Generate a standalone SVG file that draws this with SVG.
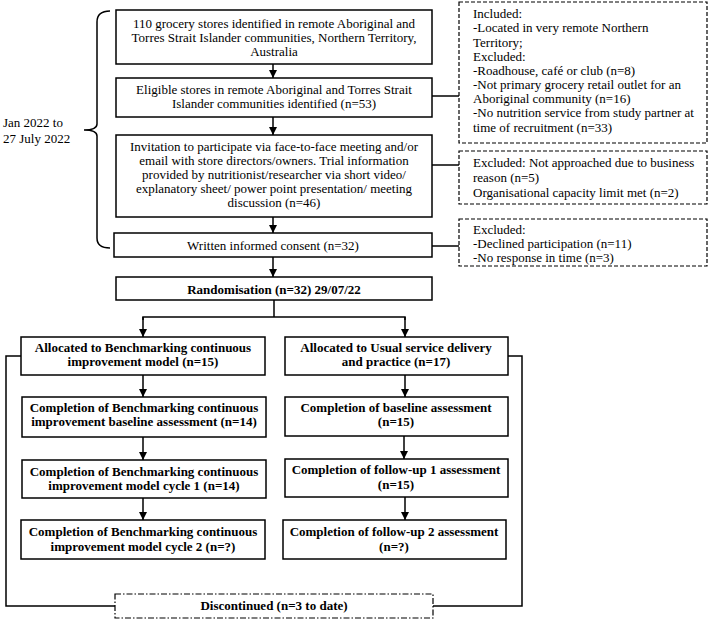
<svg xmlns="http://www.w3.org/2000/svg" width="708" height="621" viewBox="0 0 708 621" font-family="Liberation Serif, Times New Roman, DejaVu Serif, serif">
<defs>
<marker id="ah" viewBox="0 0 8 8" refX="8" refY="4" markerWidth="8" markerHeight="8" markerUnits="userSpaceOnUse" orient="auto">
<path d="M0,0 L8,4 L0,8 z" fill="#000"/>
</marker>
<style>
text{font-family:'Liberation Serif','Times New Roman','DejaVu Serif',serif;font-size:13px;fill:#000}
.c{text-anchor:middle}
.b{font-weight:bold}
.box{fill:#fff;stroke:#000;stroke-width:1.5}
.dash{fill:#fff;stroke:#000;stroke-width:1.2;stroke-dasharray:4,2}
.dd{fill:#fff;stroke:#000;stroke-width:1.2;stroke-dasharray:6,2,1.5,2}
.ln{fill:none;stroke:#000;stroke-width:1.5}
.ar{fill:none;stroke:#000;stroke-width:1.5;marker-end:url(#ah)}
</style>
</defs>
<rect width="708" height="621" fill="#fff"/>

<g id="connectors">
<line class="ar" x1="273" y1="64" x2="273" y2="78"/>
<line class="ar" x1="273" y1="117" x2="273" y2="135"/>
<line class="ar" x1="273" y1="217" x2="273" y2="233"/>
<line class="ar" x1="273" y1="257" x2="273" y2="277"/>
<line class="ln" x1="432" y1="96" x2="459" y2="96"/>
<line class="ln" x1="432" y1="165" x2="459" y2="165"/>
<line class="ln" x1="432" y1="246" x2="459" y2="246"/>
<line class="ln" x1="274" y1="300" x2="274" y2="317"/>
<polyline class="ln" points="143,320 143,317 405,317 405,320"/>
<line class="ar" x1="143" y1="317" x2="143" y2="337"/>
<line class="ar" x1="405" y1="317" x2="405" y2="337"/>
<line class="ar" x1="143" y1="375" x2="143" y2="397"/>
<line class="ar" x1="143" y1="437" x2="143" y2="460"/>
<line class="ar" x1="143" y1="498" x2="143" y2="520"/>
<line class="ar" x1="405" y1="375" x2="405" y2="397"/>
<line class="ar" x1="404" y1="436" x2="404" y2="459"/>
<line class="ar" x1="405" y1="497" x2="405" y2="520"/>
<polyline class="ln" points="21,356 6,356 6,606 115,606"/>
<polyline class="ln" points="508,356 522,356 522,606 433,606"/>
</g>

<g id="bracket">
<path class="ln" d="M110,11 Q97,11 97,22 L97,124 Q97,130 84,130 Q97,130 97,136 L97,238 Q97,248 110,248"/>
<text x="3" y="127">Jan 2022 to</text>
<text x="3" y="143">27 July 2022</text>
</g>

<g id="n1">
<rect class="box" x="116" y="10" width="316" height="54"/>
<text class="c" x="274" y="28">110 grocery stores identified in remote Aboriginal and</text>
<text class="c" x="274" y="42">Torres Strait Islander communities, Northern Territory,</text>
<text class="c" x="274" y="56">Australia</text>
</g>
<g id="n2">
<rect class="box" x="116" y="78" width="316" height="39"/>
<text class="c" x="274" y="94">Eligible stores in remote Aboriginal and Torres Strait</text>
<text class="c" x="274" y="108">Islander communities identified (n=53)</text>
</g>
<g id="n3">
<rect class="box" x="116" y="135" width="316" height="82"/>
<text class="c" x="274" y="151">Invitation to participate via face-to-face meeting and/or</text>
<text class="c" x="274" y="165">email with store directors/owners. Trial information</text>
<text class="c" x="274" y="179">provided by nutritionist/researcher via short video/</text>
<text class="c" x="274" y="193">explanatory sheet/ power point presentation/ meeting</text>
<text class="c" x="274" y="207">discussion (n=46)</text>
</g>
<g id="n4">
<rect class="box" x="114" y="233" width="318" height="24"/>
<text class="c" x="273" y="250">Written informed consent (n=32)</text>
</g>
<g id="n5">
<rect class="box" x="116" y="277" width="316" height="23"/>
<text class="c b" x="274" y="294">Randomisation (n=32) 29/07/22</text>
</g>

<g id="exA">
<rect class="dash" x="459" y="2" width="248" height="141"/>
<text x="473" y="18">Included:</text>
<text x="473" y="32">-Located in very remote Northern</text>
<text x="473" y="47">Territory;</text>
<text x="473" y="61">Excluded:</text>
<text x="473" y="75">-Roadhouse, café or club (n=8)</text>
<text x="473" y="89">-Not primary grocery retail outlet for an</text>
<text x="473" y="103">Aboriginal community (n=16)</text>
<text x="473" y="117">-No nutrition service from study partner at</text>
<text x="473" y="132">time of recruitment (n=33)</text>
</g>
<g id="exB">
<rect class="dash" x="459" y="151" width="248" height="53"/>
<text x="473" y="167">Excluded: Not approached due to business</text>
<text x="473" y="182">reason (n=5)</text>
<text x="473" y="197">Organisational capacity limit met (n=2)</text>
</g>
<g id="exC">
<rect class="dash" x="459" y="219" width="248" height="47"/>
<text x="473" y="234">Excluded:</text>
<text x="473" y="248">-Declined participation (n=11)</text>
<text x="473" y="262">-No response in time (n=3)</text>
</g>

<g id="l1">
<rect class="box" x="21" y="337" width="244" height="38"/>
<text class="c b" x="143" y="352">Allocated to Benchmarking continuous</text>
<text class="c b" x="143" y="366">improvement model (n=15)</text>
</g>
<g id="l2">
<rect class="box" x="22" y="397" width="244" height="40"/>
<text class="c b" x="144" y="412">Completion of Benchmarking continuous</text>
<text class="c b" x="144" y="426">improvement baseline assessment (n=14)</text>
</g>
<g id="l3">
<rect class="box" x="22" y="460" width="244" height="38"/>
<text class="c b" x="144" y="476">Completion of Benchmarking continuous</text>
<text class="c b" x="144" y="490">improvement model cycle 1 (n=14)</text>
</g>
<g id="l4">
<rect class="box" x="21" y="520" width="244" height="39"/>
<text class="c b" x="143" y="536">Completion of Benchmarking continuous</text>
<text class="c b" x="143" y="551">improvement model cycle 2 (n=?)</text>
</g>

<g id="r1">
<rect class="box" x="285" y="337" width="223" height="38"/>
<text class="c b" x="396" y="352">Allocated to Usual service delivery</text>
<text class="c b" x="396" y="366">and practice (n=17)</text>
</g>
<g id="r2">
<rect class="box" x="285" y="397" width="223" height="39"/>
<text class="c b" x="396" y="412">Completion of baseline assessment</text>
<text class="c b" x="396" y="426">(n=15)</text>
</g>
<g id="r3">
<rect class="box" x="285" y="459" width="223" height="38"/>
<text class="c b" x="396" y="474">Completion of follow-up 1 assessment</text>
<text class="c b" x="396" y="489">(n=15)</text>
</g>
<g id="r4">
<rect class="box" x="283" y="520" width="223" height="39"/>
<text class="c b" x="394" y="536">Completion of follow-up 2 assessment</text>
<text class="c b" x="394" y="551">(n=?)</text>
</g>

<g id="disc">
<rect class="dd" x="115" y="594" width="318" height="24"/>
<text class="c b" x="274" y="610">Discontinued (n=3 to date)</text>
</g>
</svg>
